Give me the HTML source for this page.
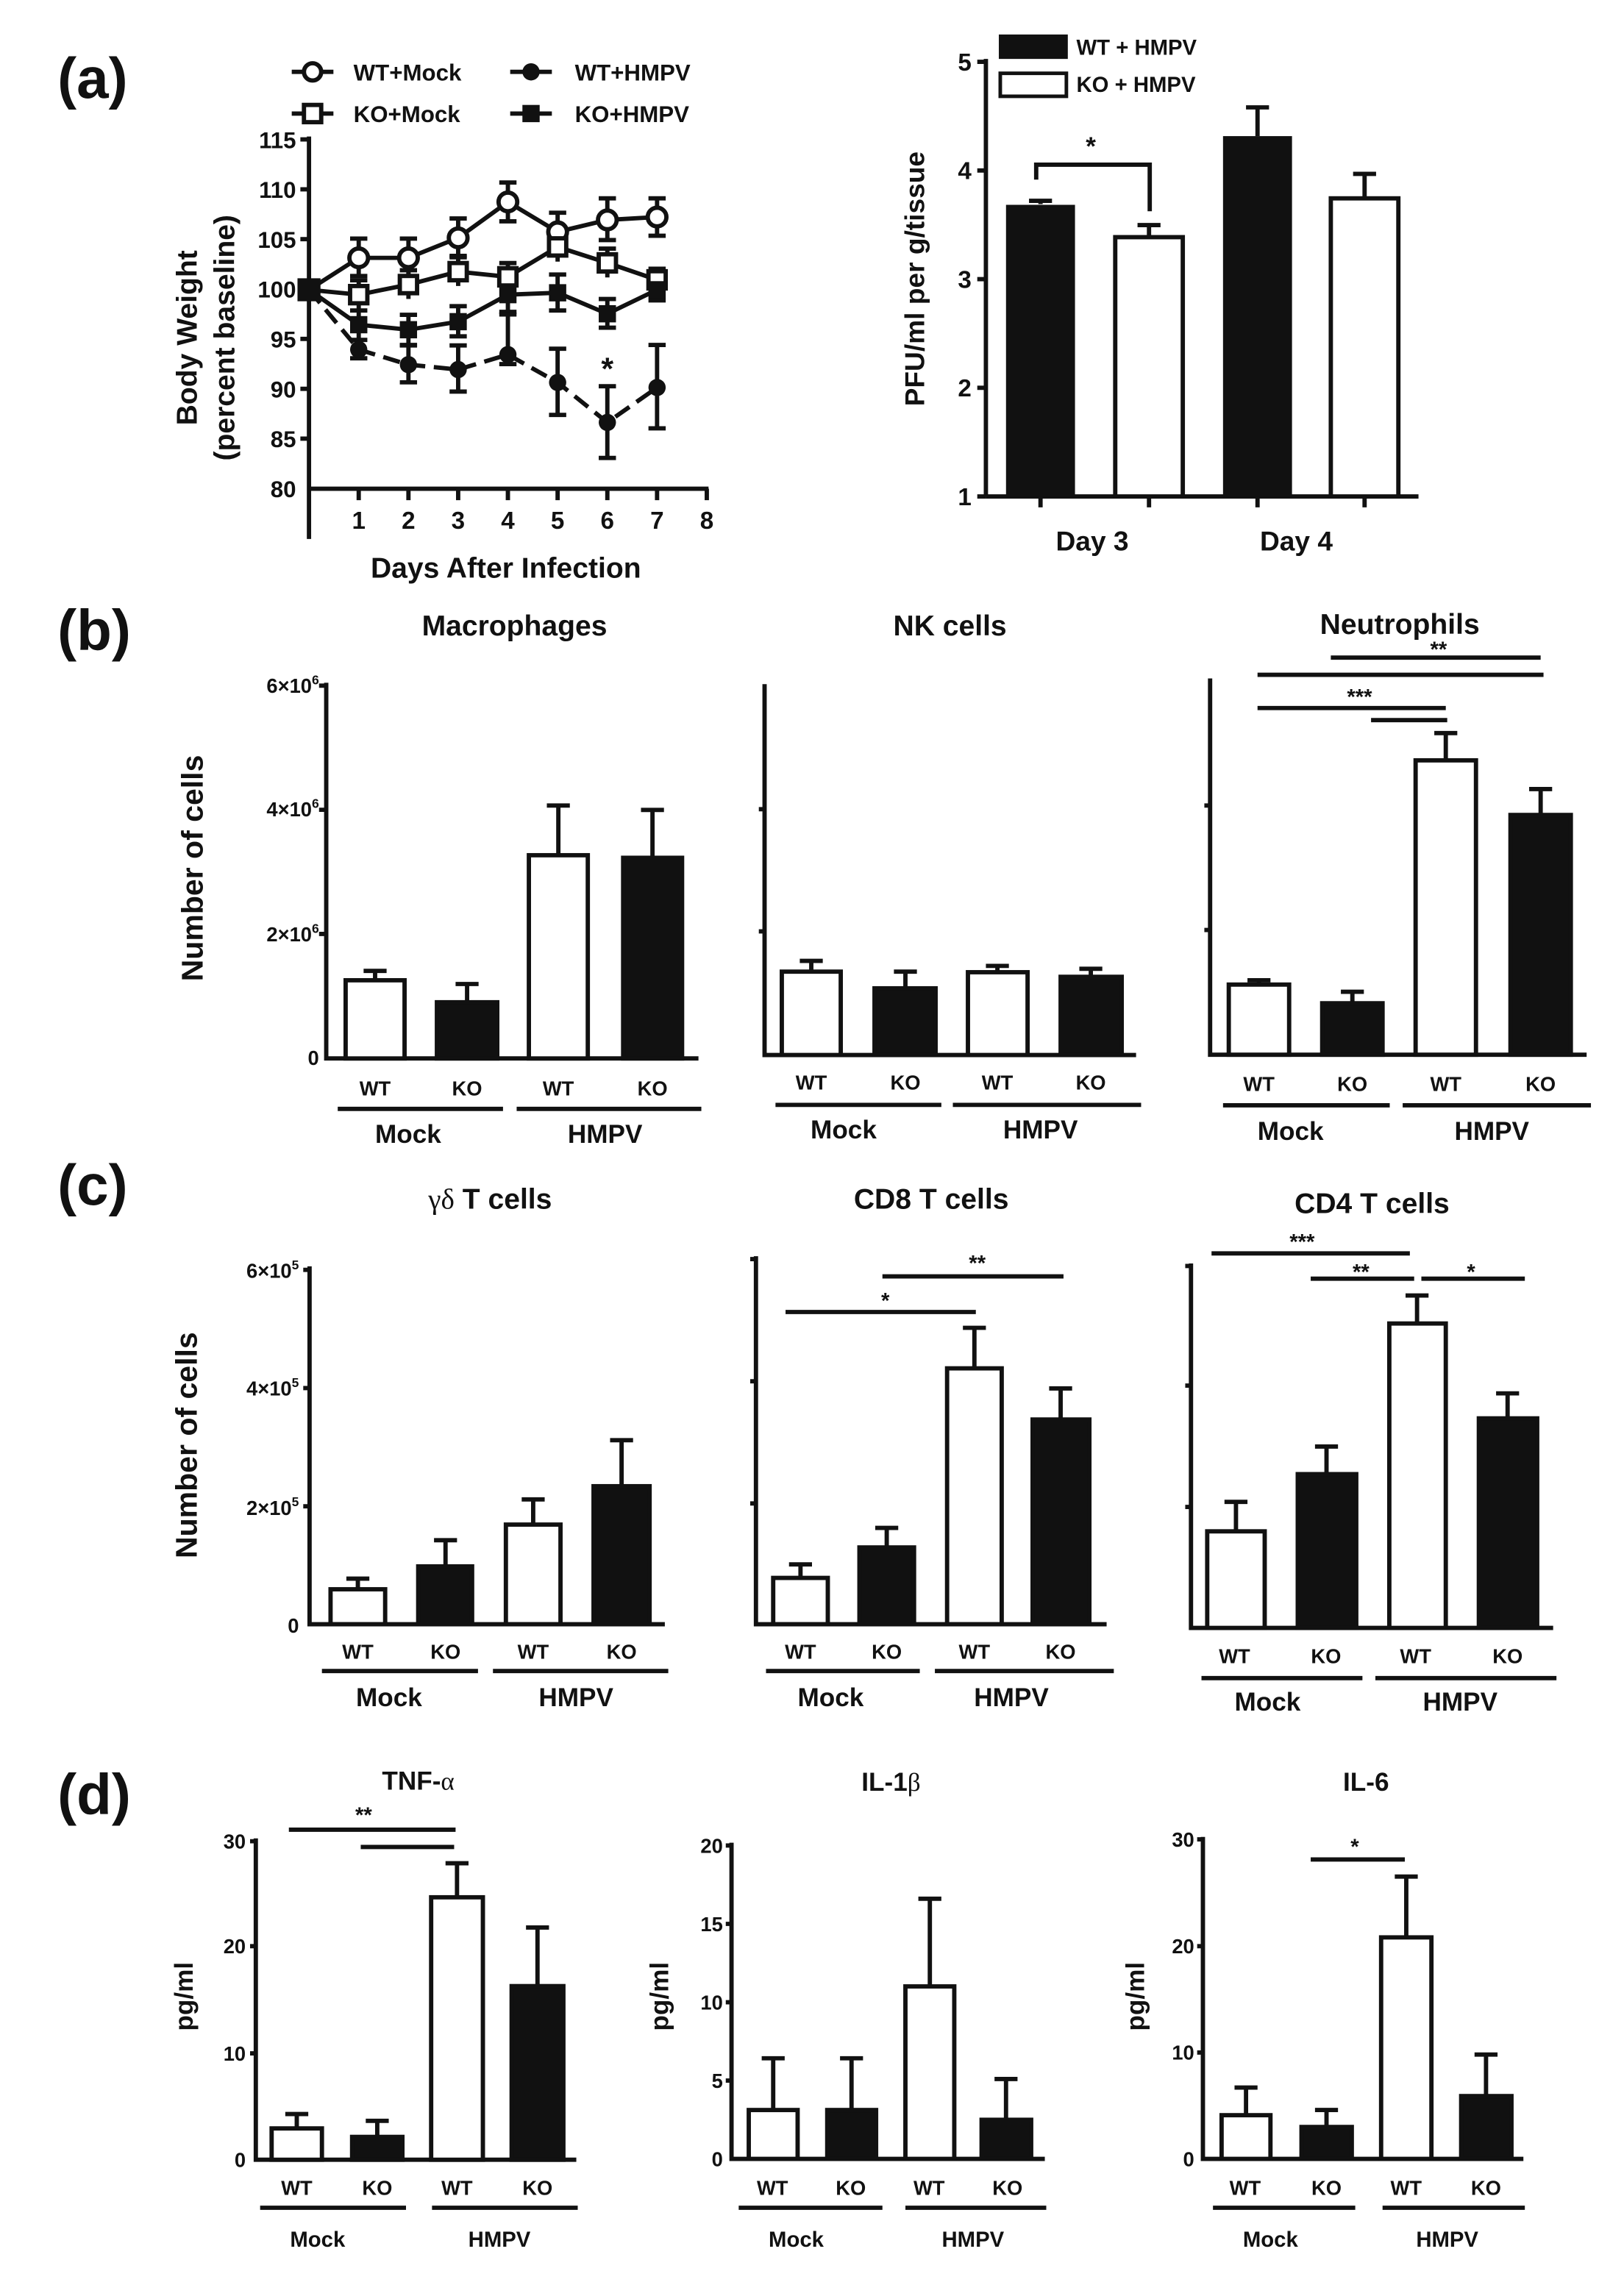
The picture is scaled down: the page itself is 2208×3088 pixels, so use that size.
<!DOCTYPE html>
<html><head><meta charset="utf-8"><style>
html,body{margin:0;padding:0;background:#fff;}
svg{display:block;}
text{font-family:"Liberation Sans",sans-serif;font-weight:bold;fill:#111;}
</style></head><body>
<svg width="2208" height="3088" viewBox="0 0 1130 1580" preserveAspectRatio="none" xmlns="http://www.w3.org/2000/svg">
<rect width="1130" height="1580" fill="#fff"/>

<!-- ===== (a) left line chart ===== -->
<text x="40" y="68" font-size="40">(a)</text>
<g stroke="#111" stroke-width="3" fill="none">
<line x1="215" y1="95" x2="215" y2="375"/>
<line x1="215" y1="340" x2="493" y2="340"/>
<path d="M209 97H215M209 131.7H215M209 166.4H215M209 201.1H215M209 235.8H215M209 270.5H215M209 305.2H215"/>
<path d="M249.6 340V348M284.2 340V348M318.8 340V348M353.4 340V348M388 340V348M422.6 340V348M457.2 340V348M491.8 340V348"/>
<path d="M203 50H232M355 50H384M203 79H232M355 79H384"/>
</g>
<circle cx="217.5" cy="50" r="6" fill="#fff" stroke="#111" stroke-width="3"/>
<circle cx="369.5" cy="50" r="6" fill="#111"/>
<rect x="211.5" y="73" width="12" height="12" fill="#fff" stroke="#111" stroke-width="3"/>
<rect x="363.5" y="73" width="12" height="12" fill="#111"/>
<text x="246" y="56" font-size="16">WT+Mock</text>
<text x="400" y="56" font-size="16">WT+HMPV</text>
<text x="246" y="85" font-size="16">KO+Mock</text>
<text x="400" y="85" font-size="16">KO+HMPV</text>
<g font-size="16" text-anchor="end">
<text x="206" y="103">115</text><text x="206" y="137.7">110</text><text x="206" y="172.4">105</text><text x="206" y="207.1">100</text><text x="206" y="241.8">95</text><text x="206" y="276.5">90</text><text x="206" y="311.2">85</text><text x="206" y="346">80</text>
</g>
<g font-size="17" text-anchor="middle">
<text x="249.6" y="368">1</text><text x="284.2" y="368">2</text><text x="318.8" y="368">3</text><text x="353.4" y="368">4</text><text x="388" y="368">5</text><text x="422.6" y="368">6</text><text x="457.2" y="368">7</text><text x="491.8" y="368">8</text>
</g>
<text x="352" y="402" font-size="20" text-anchor="middle">Days After Infection</text>
<text transform="translate(137,235) rotate(-90)" font-size="20" text-anchor="middle">Body Weight</text>
<text transform="translate(163,235) rotate(-90)" font-size="20" text-anchor="middle">(percent baseline)</text>
<g stroke="#111" stroke-width="3" fill="none">
<path d="M249.6 166V192M243.6 166H255.6M243.6 192H255.6M284.2 166V192M278.2 166H290.2M278.2 192H290.2M318.8 152V178M312.8 152H324.8M312.8 178H324.8M353.4 127V154M347.4 127H359.4M347.4 154H359.4M388 148V174M382 148H394M382 174H394M422.6 138V167M416.6 138H428.6M416.6 167H428.6M457.2 138V164M451.2 138H463.2M451.2 164H463.2"/>
<path d="M249.6 195V215M243.6 195H255.6M284.2 188V208M278.2 188H290.2M318.8 179V199M312.8 179H324.8M353.4 183V203M347.4 183H359.4M388 162V182M382 162H394M422.6 173V193M416.6 173H428.6M457.2 187V202M451.2 187H463.2"/>
<path d="M249.6 216V236M243.6 216H255.6M284.2 219V240M278.2 219H290.2M278.2 240H290.2M318.8 213V234M312.8 213H324.8M312.8 234H324.8M353.4 193V217M347.4 193H359.4M347.4 217H359.4M388 191V216M382 191H394M382 216H394M422.6 208V228M416.6 208H428.6M416.6 228H428.6M457.2 194V209M451.2 209H463.2"/>
<path d="M249.6 236.5V249.3M243.6 236.5H255.6M243.6 249.3H255.6M284.2 240.3V266M278.2 240.3H290.2M278.2 266H290.2M318.8 240.3V272.4M312.8 240.3H324.8M312.8 272.4H324.8M353.4 218.8V253.3M347.4 218.8H359.4M347.4 253.3H359.4M388 242.6V288.7M382 242.6H394M382 288.7H394M422.6 268.7V318.6M416.6 268.7H428.6M416.6 318.6H428.6M457.2 240V298M451.2 240H463.2M451.2 298H463.2"/>
</g>
<polyline points="215,201.6 249.6,179.4 284.2,179.4 318.8,165.5 353.4,140.5 388,161.3 422.6,153 457.2,151" fill="none" stroke="#111" stroke-width="3"/>
<polyline points="215,201.6 249.6,205 284.2,198 318.8,189 353.4,192.6 388,171.8 422.6,182.9 457.2,194.7" fill="none" stroke="#111" stroke-width="3"/>
<polyline points="215,201.6 249.6,225.9 284.2,229.4 318.8,223.8 353.4,205 388,203.7 422.6,218.3 457.2,201.6" fill="none" stroke="#111" stroke-width="3"/>
<polyline points="215,201.6 249.6,243.2 284.2,253.7 318.8,257.1 353.4,246.7 388,266.1 422.6,293.9 457.2,269.6" fill="none" stroke="#111" stroke-width="3" stroke-dasharray="12,6"/>
<g fill="#fff" stroke="#111" stroke-width="3">
<circle cx="249.6" cy="179.4" r="6.5"/><circle cx="284.2" cy="179.4" r="6.5"/><circle cx="318.8" cy="165.5" r="6.5"/><circle cx="353.4" cy="140.5" r="6.5"/><circle cx="388" cy="161.3" r="6.5"/><circle cx="422.6" cy="153" r="6.5"/><circle cx="457.2" cy="151" r="6.5"/>
<rect x="243.6" y="199" width="12" height="12"/><rect x="278.2" y="192" width="12" height="12"/><rect x="312.8" y="183" width="12" height="12"/><rect x="347.4" y="186.6" width="12" height="12"/><rect x="382" y="165.8" width="12" height="12"/><rect x="416.6" y="176.9" width="12" height="12"/><rect x="451.2" y="188.7" width="12" height="12"/>
</g>
<g fill="#111">
<rect x="207" y="193.6" width="16" height="16"/>
<rect x="243.6" y="219.9" width="12" height="12"/><rect x="278.2" y="223.4" width="12" height="12"/><rect x="312.8" y="217.8" width="12" height="12"/><rect x="347.4" y="199" width="12" height="12"/><rect x="382" y="197.7" width="12" height="12"/><rect x="416.6" y="212.3" width="12" height="12"/><rect x="451.2" y="195.6" width="12" height="12"/>
<circle cx="249.6" cy="243.2" r="6"/><circle cx="284.2" cy="253.7" r="6"/><circle cx="318.8" cy="257.1" r="6"/><circle cx="353.4" cy="246.7" r="6"/><circle cx="388" cy="266.1" r="6"/><circle cx="422.6" cy="293.9" r="6"/><circle cx="457.2" cy="269.6" r="6"/>
</g>
<text x="422.6" y="264" font-size="22" text-anchor="middle">*</text>

<!-- ===== (a) right bar chart ===== -->
<g stroke="#111" stroke-width="3" fill="none">
<line x1="686" y1="41" x2="686" y2="345.4"/>
<line x1="686" y1="345.4" x2="987" y2="345.4"/>
<path d="M680 43H686M680 118.6H686M680 194.2H686M680 269.8H686M680 345.4H686"/>
<path d="M724 345V353M799.5 345V353M875 345V353M949.5 345V353"/>
<path d="M724 142V139.7M716 139.7H732M799.5 165V156.6M791.5 156.6H807.5M875 94.7V74.7M867 74.7H883M949.5 138V121M941.5 121H957.5"/>
<path d="M721 125V114.6H800V147"/>
</g>
<rect x="700" y="142.5" width="48" height="203" fill="#111"/>
<rect x="776" y="165" width="47" height="180.4" fill="#fff" stroke="#111" stroke-width="3"/>
<rect x="851" y="94.7" width="48" height="250.7" fill="#111"/>
<rect x="926" y="138" width="47" height="207.4" fill="#fff" stroke="#111" stroke-width="3"/>
<text x="759" y="108" font-size="18" text-anchor="middle">*</text>
<rect x="695" y="24" width="48" height="17" fill="#111"/>
<rect x="696" y="51" width="46" height="16" fill="#fff" stroke="#111" stroke-width="2.5"/>
<text x="749" y="38" font-size="15">WT + HMPV</text>
<text x="749" y="64" font-size="15">KO + HMPV</text>
<g font-size="17" text-anchor="end">
<text x="676" y="49">5</text><text x="676" y="124.6">4</text><text x="676" y="200.2">3</text><text x="676" y="275.8">2</text><text x="676" y="351.4">1</text>
</g>
<text x="760" y="383" font-size="19" text-anchor="middle">Day 3</text>
<text x="902" y="383" font-size="19" text-anchor="middle">Day 4</text>
<text transform="translate(643,194) rotate(-90)" font-size="19" text-anchor="middle">PFU/ml per g/tissue</text>

<!-- ===== (b) ===== -->
<text x="40" y="452" font-size="40">(b)</text>
<g font-size="20" text-anchor="middle">
<text x="358" y="442">Macrophages</text><text x="661" y="442">NK cells</text><text x="974" y="441">Neutrophils</text>
</g>
<text transform="translate(141,604) rotate(-90)" font-size="21" text-anchor="middle">Number of cells</text>
<g font-size="14" text-anchor="end">
<text x="222" y="482">6×10<tspan dy="-6" font-size="9">6</tspan></text>
<text x="222" y="568">4×10<tspan dy="-6" font-size="9">6</tspan></text>
<text x="222" y="655">2×10<tspan dy="-6" font-size="9">6</tspan></text>
<text x="222" y="741">0</text>
</g>
<g stroke="#111" stroke-width="3" fill="none">
<path d="M227 475V736.4H486M222 477H227M222 563.4H227M222 649.8H227"/>
<path d="M532 476V734H790.5M528 563H532M528 648H532"/>
<path d="M842 472V733.8H1104M838 560.4H842M838 647H842"/>
<path d="M261 682V675.5M253 675.5H269M325 697V684.6M317 684.6H333M388.5 595V560.4M380.5 560.4H396.5M454 597V563.5M446 563.5H462"/>
<path d="M564.5 676V668.5M556.5 668.5H572.5M630 688V676M622 676H638M694 676V672M686 672H702M759 680V674M751 674H767"/>
<path d="M876 685V682M868 682H884M941 698V690M933 690H949M1006 529V510M998 510H1014M1072 567V549M1064 549H1080"/>
<path d="M235 771.5H350M359.5 771.5H488M539.6 768.7H655M663 768.7H794M851 769H967M976 769H1107"/>
<path d="M926 457.5H1072M875 469.5H1074M875 492.6H1006M954 501H1007"/>
</g>
<g stroke="#111" stroke-width="3">
<rect x="240.5" y="682" width="41" height="54.4" fill="#fff"/>
<rect x="304" y="697.3" width="42" height="39.1" fill="#111"/>
<rect x="368" y="595" width="41" height="141.4" fill="#fff"/>
<rect x="433.6" y="596.8" width="41" height="139.6" fill="#111"/>
<rect x="544" y="676" width="41" height="58" fill="#fff"/>
<rect x="608.5" y="687.6" width="42.5" height="46.4" fill="#111"/>
<rect x="673.5" y="676.4" width="41.5" height="57.6" fill="#fff"/>
<rect x="738" y="679.6" width="42.5" height="54.4" fill="#111"/>
<rect x="855" y="685" width="42" height="48.8" fill="#fff"/>
<rect x="920" y="698" width="42" height="35.8" fill="#111"/>
<rect x="985" y="529" width="42" height="204.8" fill="#fff"/>
<rect x="1051" y="567" width="42" height="166.8" fill="#111"/>
</g>
<g font-size="14" text-anchor="middle">
<text x="261" y="762">WT</text><text x="325" y="762">KO</text><text x="388.5" y="762">WT</text><text x="454" y="762">KO</text>
<text x="564.5" y="758">WT</text><text x="630" y="758">KO</text><text x="694" y="758">WT</text><text x="759" y="758">KO</text>
<text x="876" y="759">WT</text><text x="941" y="759">KO</text><text x="1006" y="759">WT</text><text x="1072" y="759">KO</text>
</g>
<g font-size="18" text-anchor="middle">
<text x="284" y="795">Mock</text><text x="421" y="795">HMPV</text>
<text x="587" y="792">Mock</text><text x="724" y="792">HMPV</text>
<text x="898" y="793">Mock</text><text x="1038" y="793">HMPV</text>
</g>
<text x="1001" y="457" font-size="15" text-anchor="middle">**</text>
<text x="946" y="490" font-size="15" text-anchor="middle">***</text>

<!-- ===== (c) ===== -->
<text x="40" y="838" font-size="40">(c)</text>
<g font-size="20" text-anchor="middle">
<text x="341" y="841"><tspan font-family="Liberation Serif" font-weight="normal">γδ</tspan> T cells</text>
<text x="648" y="841">CD8 T cells</text><text x="954.7" y="844">CD4 T cells</text>
</g>
<text transform="translate(137,1005.5) rotate(-90)" font-size="21" text-anchor="middle">Number of cells</text>
<g font-size="14" text-anchor="end">
<text x="208" y="889">6×10<tspan dy="-6" font-size="9">5</tspan></text>
<text x="208" y="971">4×10<tspan dy="-6" font-size="9">5</tspan></text>
<text x="208" y="1054">2×10<tspan dy="-6" font-size="9">5</tspan></text>
<text x="208" y="1136">0</text>
</g>
<g stroke="#111" stroke-width="3" fill="none">
<path d="M215.4 881V1130H462.6M211 883.5H215.4M211 965.7H215.4M211 1048H215.4"/>
<path d="M526 874V1130H770M522 876H526M522 961H526M522 1046H526"/>
<path d="M828.7 879V1132.6H1080.7M824.7 880.8H828.7M824.7 964H828.7M824.7 1048.4H828.7"/>
<path d="M249 1105.7V1098.3M241 1098.3H257M310 1089.8V1071.6M302 1071.6H318M371 1060.7V1043.2M363 1043.2H379M432.5 1034V1002M424.5 1002H440.5"/>
<path d="M557 1097.8V1088.4M549 1088.4H565M617 1076.6V1063M609 1063H625M678 952V923.8M670 923.8H686M738 987.6V966M730 966H746"/>
<path d="M860 1065.4V1044.9M852 1044.9H868M923 1025.6V1006.4M915 1006.4H931M986 920.8V901.3M978 901.3H994M1049 986.8V969.4M1041 969.4H1057"/>
<path d="M224 1162.6H332.6M343 1162.6H465M533 1162.6H640M650.5 1162.6H775M836 1167.5H948M957 1167.5H1083"/>
<path d="M546.6 912.8H679M614 888H740M843 872H981M912 889.6H984M989 889.6H1061"/>
</g>
<g stroke="#111" stroke-width="3">
<rect x="230" y="1105.7" width="38" height="24.3" fill="#fff"/>
<rect x="291" y="1089.8" width="37.5" height="40.2" fill="#111"/>
<rect x="352" y="1060.7" width="38" height="69.3" fill="#fff"/>
<rect x="413" y="1034" width="39" height="96" fill="#111"/>
<rect x="538" y="1097.8" width="38" height="32.2" fill="#fff"/>
<rect x="598" y="1076.6" width="38" height="53.4" fill="#111"/>
<rect x="659" y="952" width="38" height="178" fill="#fff"/>
<rect x="718.5" y="987.6" width="39.5" height="142.4" fill="#111"/>
<rect x="840" y="1065.4" width="40" height="67.2" fill="#fff"/>
<rect x="903" y="1025.6" width="40.7" height="107" fill="#111"/>
<rect x="966.7" y="920.8" width="39.3" height="211.8" fill="#fff"/>
<rect x="1029" y="986.8" width="40.6" height="145.8" fill="#111"/>
</g>
<g font-size="14" text-anchor="middle">
<text x="249" y="1154">WT</text><text x="310" y="1154">KO</text><text x="371" y="1154">WT</text><text x="432.5" y="1154">KO</text>
<text x="557" y="1154">WT</text><text x="617" y="1154">KO</text><text x="678" y="1154">WT</text><text x="738" y="1154">KO</text>
<text x="859" y="1157">WT</text><text x="922.7" y="1157">KO</text><text x="985" y="1157">WT</text><text x="1049" y="1157">KO</text>
</g>
<g font-size="18" text-anchor="middle">
<text x="270.7" y="1187">Mock</text><text x="400.8" y="1187">HMPV</text>
<text x="578" y="1187">Mock</text><text x="703.7" y="1187">HMPV</text>
<text x="882" y="1190">Mock</text><text x="1016" y="1190">HMPV</text>
</g>
<g font-size="15" text-anchor="middle">
<text x="616" y="910">*</text><text x="680" y="884">**</text>
<text x="906" y="869">***</text><text x="947" y="890">**</text><text x="1023.6" y="890">*</text>
</g>

<!-- ===== (d) ===== -->
<text x="40" y="1262" font-size="40">(d)</text>
<g font-size="18" text-anchor="middle">
<text x="291" y="1245">TNF-<tspan font-family="Liberation Serif" font-weight="normal">α</tspan></text>
<text x="620" y="1246">IL-1<tspan font-family="Liberation Serif" font-weight="normal">β</tspan></text>
<text x="950.5" y="1246">IL-6</text>
</g>
<g font-size="14" text-anchor="end">
<text x="171" y="1286">30</text><text x="171" y="1359">20</text><text x="171" y="1433.6">10</text><text x="171" y="1507.6">0</text>
<text x="503" y="1289">20</text><text x="503" y="1343.5">15</text><text x="503" y="1398">10</text><text x="503" y="1452.5">5</text><text x="503" y="1507">0</text>
<text x="831" y="1284.7">30</text><text x="831" y="1359">20</text><text x="831" y="1433">10</text><text x="831" y="1507">0</text>
</g>
<g font-size="18">
<text transform="translate(134,1389) rotate(-90)" text-anchor="middle">pg/ml</text>
<text transform="translate(465,1389) rotate(-90)" text-anchor="middle">pg/ml</text>
<text transform="translate(796,1389) rotate(-90)" text-anchor="middle">pg/ml</text>
</g>
<g stroke="#111" stroke-width="3" fill="none">
<path d="M178 1279V1502.6H401M174 1281H178M174 1354H178M174 1428.6H178"/>
<path d="M509 1282V1502H727M505 1284H509M505 1338.5H509M505 1393H509M505 1447.5H509"/>
<path d="M837 1278V1502H1060M833 1279.7H837M833 1354H837M833 1428H837"/>
<path d="M206.5 1480.8V1470.8M198.5 1470.8H214.5M262.5 1486.7V1475.5M254.5 1475.5H270.5M318 1320V1296.3M310 1296.3H326M374 1381.8V1341M366 1341H382"/>
<path d="M538 1468V1432M530 1432H546M592.5 1468V1432M584.5 1432H600.5M647 1382V1321M639 1321H655M700 1474.8V1446.4M692 1446.4H708"/>
<path d="M867 1471.6V1452.4M859 1452.4H875M923 1479.8V1468M915 1468H931M978.5 1347.9V1305.6M970.5 1305.6H986.5M1034 1458.3V1429.4M1026 1429.4H1042"/>
<path d="M181 1536H282.5M300.6 1536H402M514 1536H614M630 1536H728M844 1536H943M962 1536H1061"/>
<path d="M201 1273H317M251 1285H316M912 1293.7H977.5"/>
</g>
<g stroke="#111" stroke-width="3">
<rect x="189" y="1480.8" width="35" height="21.8" fill="#fff"/>
<rect x="245" y="1486.7" width="35" height="15.9" fill="#111"/>
<rect x="300" y="1320" width="36" height="182.6" fill="#fff"/>
<rect x="356" y="1381.8" width="36" height="120.8" fill="#111"/>
<rect x="521" y="1468" width="34" height="34" fill="#fff"/>
<rect x="575.6" y="1468" width="34" height="34" fill="#111"/>
<rect x="630" y="1382" width="34" height="120" fill="#fff"/>
<rect x="683" y="1474.8" width="34.5" height="27.2" fill="#111"/>
<rect x="850" y="1471.6" width="34" height="30.4" fill="#fff"/>
<rect x="905.6" y="1479.8" width="35" height="22.2" fill="#111"/>
<rect x="961" y="1347.9" width="35" height="154.1" fill="#fff"/>
<rect x="1016.7" y="1458.3" width="35" height="43.7" fill="#111"/>
</g>
<g font-size="14" text-anchor="middle">
<text x="206.5" y="1527">WT</text><text x="262.5" y="1527">KO</text><text x="318" y="1527">WT</text><text x="374" y="1527">KO</text>
<text x="537.5" y="1527">WT</text><text x="592" y="1527">KO</text><text x="646.5" y="1527">WT</text><text x="701" y="1527">KO</text>
<text x="866.4" y="1527">WT</text><text x="923" y="1527">KO</text><text x="978.4" y="1527">WT</text><text x="1034" y="1527">KO</text>
</g>
<g font-size="15" text-anchor="middle">
<text x="221" y="1563">Mock</text><text x="347.5" y="1563">HMPV</text>
<text x="554" y="1563">Mock</text><text x="677" y="1563">HMPV</text>
<text x="884" y="1563">Mock</text><text x="1007" y="1563">HMPV</text>
</g>
<g font-size="15" text-anchor="middle">
<text x="253" y="1268">**</text><text x="942.7" y="1290">*</text>
</g>
</svg>
</body></html>
